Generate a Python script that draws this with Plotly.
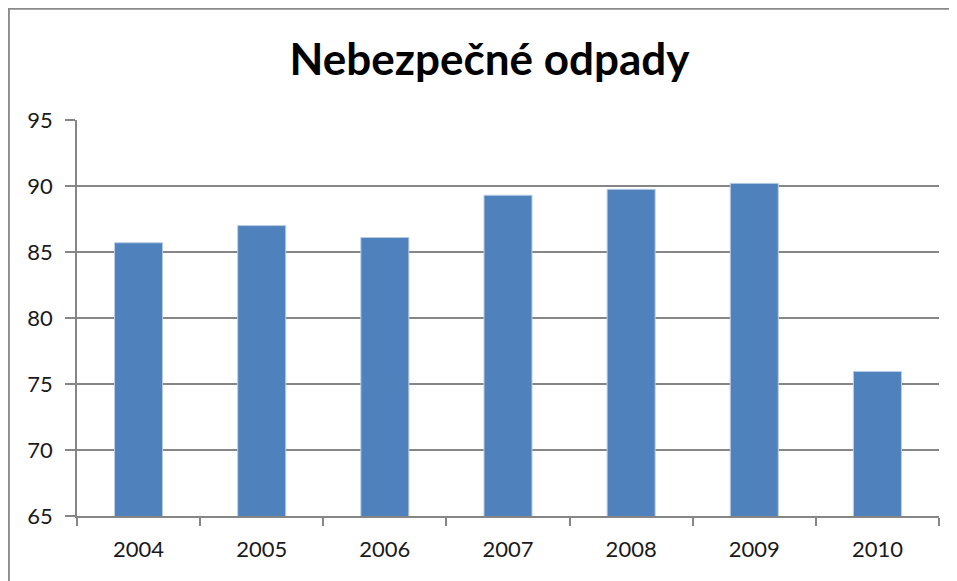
import plotly.graph_objects as go

years = ["2004", "2005", "2006", "2007", "2008", "2009", "2010"]
values = [85.7, 87.0, 86.1, 89.3, 89.75, 90.2, 75.95]
y_ticks = [65, 70, 75, 80, 85, 90, 95]

fig = go.Figure()
fig.add_trace(go.Bar(
    x=years,
    y=values,
    marker=dict(color="#4F81BD", line=dict(color="#B9CDE5", width=1)),
))

axis_grey = "#868686"
fig.update_layout(
    title=dict(text="<b>Nebezpečné odpady</b>", x=481.5 / 957, xanchor="center",
               xref="container", y=1 - 52 / 581, yanchor="middle",
               font=dict(family="Lato", size=44, color="black")),
    width=957, height=581,
    margin=dict(l=69, r=26, t=112, b=73),
    plot_bgcolor="white", paper_bgcolor="white",
    bargap=0.61,
    showlegend=False,
    font=dict(family="Lato", size=22, color="#1a1a1a"),
    xaxis=dict(showline=True, linecolor=axis_grey, linewidth=1.5,
               ticks="outside", tickson="boundaries", ticklen=8,
               tickcolor=axis_grey, tickwidth=1.5, showgrid=False,
               ticklabelstandoff=13),
    yaxis=dict(range=[65, 95], tickvals=y_ticks, showline=True,
               linecolor=axis_grey, linewidth=1.5, ticks="outside",
               ticklen=10, tickcolor=axis_grey, tickwidth=1.5,
               showgrid=True, gridcolor=axis_grey, gridwidth=1.5,
               zeroline=False, ticklabelstandoff=8),
    shapes=[dict(type="rect", xref="paper", yref="paper",
                 x0=-69 / 862 + 0.001, x1=1.3, y0=-0.4, y1=508 / 396 - 0.002,
                 line=dict(color="#8a8a8a", width=2), layer="below")],
)

fig.write_html("out.html")
